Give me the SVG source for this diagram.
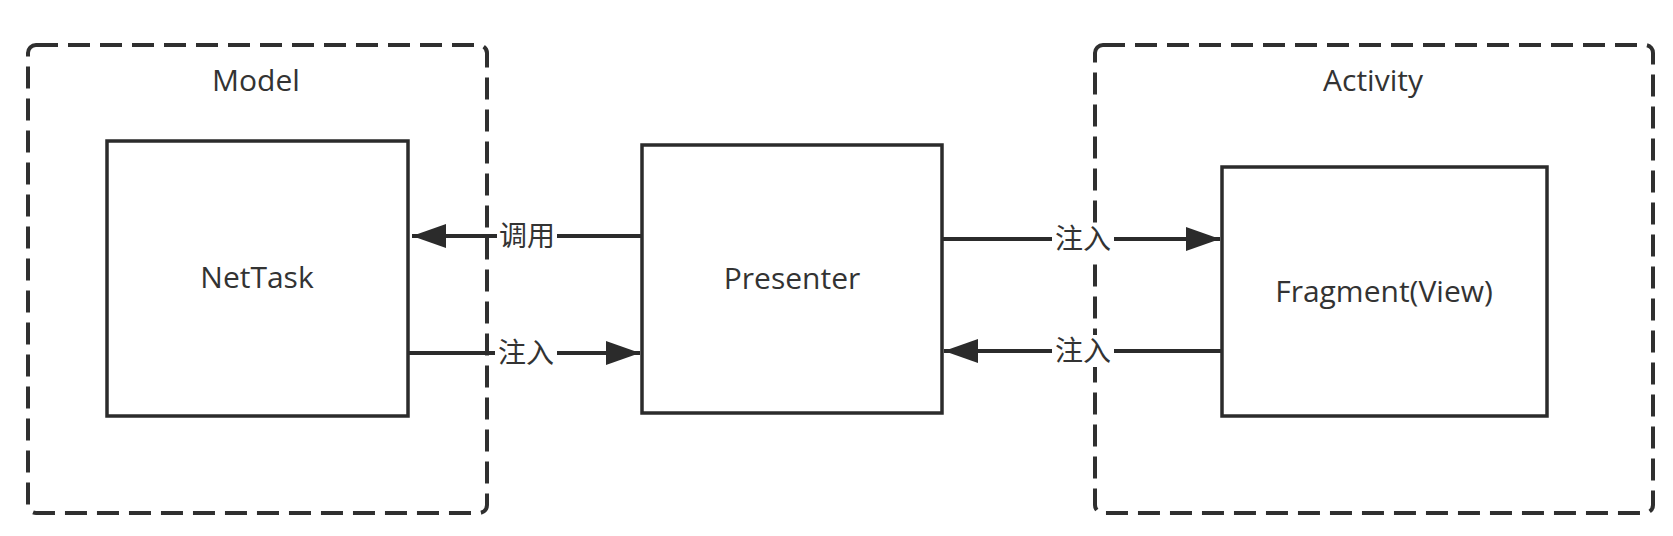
<svg xmlns="http://www.w3.org/2000/svg" width="1673" height="536" viewBox="0 0 1673 536">
<style>
.container{fill:none;stroke:#2f2f2f;stroke-width:4;stroke-dasharray:22 10}
.box{fill:#fff;stroke:#2b2b2b;stroke-width:3.5}
.t{font-family:"Open Sans","Noto Sans",sans-serif;font-size:30px;fill:#333;text-anchor:middle}
.edge{fill:none;stroke:#2b2b2b;stroke-width:4}
.lbl{font-family:"Noto Sans CJK SC",sans-serif;font-size:28px;fill:#333;text-anchor:middle}
.lblbg{fill:#fff}
</style>
<defs>
<marker id="arrow" markerUnits="userSpaceOnUse" markerWidth="36" markerHeight="24" refX="34" refY="12" orient="auto">
<path d="M0,0 L34,12 L0,24 Z" fill="#2b2b2b"/>
</marker>
</defs>
<g id="model">
<rect class="container" x="28" y="45" width="459" height="468" rx="8"/>
<text class="t" x="256" y="91">Model</text>
</g>
<g id="activity">
<rect class="container" x="1095" y="45" width="558" height="468" rx="8"/>
<text class="t" x="1373" y="91">Activity</text>
</g>
<g id="nettask">
<rect class="box" x="107" y="141" width="301" height="275"/>
<text class="t" x="257" y="288">NetTask</text>
</g>
<g id="presenter">
<rect class="box" x="642" y="145" width="300" height="268"/>
<text class="t" x="792" y="289">Presenter</text>
</g>
<g id="fragment">
<rect class="box" x="1222" y="167" width="325" height="249"/>
<text class="t" x="1384" y="302">Fragment(View)</text>
</g>
<g id="connectors">
<line class="edge" x1="642" y1="236" x2="412" y2="236" marker-end="url(#arrow)"/>
<line class="edge" x1="408" y1="353" x2="640" y2="353" marker-end="url(#arrow)"/>
<line class="edge" x1="942" y1="239" x2="1220" y2="239" marker-end="url(#arrow)"/>
<line class="edge" x1="1222" y1="351" x2="944" y2="351" marker-end="url(#arrow)"/>
<rect class="lblbg" x="497" y="220" width="60" height="32"/>
<text class="lbl" x="527" y="246">调用</text>
<rect class="lblbg" x="495" y="337" width="62" height="32"/>
<text class="lbl" x="526" y="363">注入</text>
<rect class="lblbg" x="1052" y="223" width="62" height="32"/>
<text class="lbl" x="1083" y="249">注入</text>
<rect class="lblbg" x="1052" y="335" width="62" height="32"/>
<text class="lbl" x="1083" y="361">注入</text>
</g>
</svg>
